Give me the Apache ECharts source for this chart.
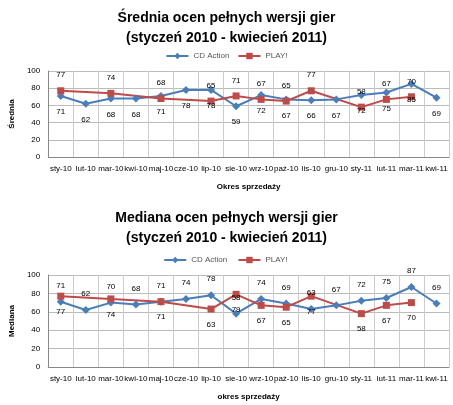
<!DOCTYPE html>
<html>
<head>
<meta charset="UTF-8">
<script src="https://cdn.jsdelivr.net/npm/echarts@6/dist/echarts.min.js"></script>
</head>
<body style="margin:0">
<div id="charts" style="width:453px;height:405px;"></div>
<script>
var months = ['sty-10','lut-10','mar-10','kwi-10','maj-10','cze-10','lip-10','sie-10','wrz-10','paź-10','lis-10','gru-10','sty-11','lut-11','mar-11','kwi-11'];
var sredniaCD = [71,62,68,68,71,78,78,59,72,67,66,67,72,75,85,69];
var sredniaPlay = [77,null,74,null,68,null,65,71,67,65,77,null,58,67,70,null];
var medianaCD = [71,62,70,68,71,74,78,58,74,69,63,67,72,75,87,69];
var medianaPlay = [77,null,74,null,71,null,63,79,67,65,77,null,58,67,70,null];

var blue = '#4a7ebb', red = '#be4b48';
var chart = echarts.init(document.getElementById('charts'));
function xAx(idx, name) {
    return {type:'category', gridIndex:idx, data:months, name:name, nameLocation:'middle', nameGap:26,
        nameTextStyle:{fontSize:8, fontWeight:'bold', color:'#000'},
        axisLabel:{fontSize:8, color:'#000', interval:0}, axisTick:{show:false},
        axisLine:{lineStyle:{color:'#888'}}, splitLine:{show:true, lineStyle:{color:'#ccc'}}};
}
function yAx(idx, name) {
    return {type:'value', gridIndex:idx, min:0, max:100, interval:20, name:name, nameLocation:'middle', nameGap:24,
        nameTextStyle:{fontSize:8, fontWeight:'bold', color:'#000'},
        axisLabel:{fontSize:8, color:'#000'}, axisLine:{show:true, lineStyle:{color:'#888'}},
        splitLine:{lineStyle:{color:'#bbb'}}};
}
function ser(name, data, idx, color, sym, pos) {
    return {name:name, type:'line', xAxisIndex:idx, yAxisIndex:idx, data:data, connectNulls:true,
        symbol:sym, symbolSize: sym === 'rect' ? 7 : 8, color:color, lineStyle:{width:2, color:color},
        itemStyle:{color:color}, label:{show:true, position:pos, fontSize:8, color:'#000', distance:8}};
}
chart.setOption({
    animation:false,
    title:[
        {text:'Średnia ocen pełnych wersji gier\n(styczeń 2010 - kwiecień 2011)', left:'center', top:3,
         textStyle:{fontSize:14, fontWeight:'bold', lineHeight:20, color:'#000'}},
        {text:'Mediana ocen pełnych wersji gier\n(styczeń 2010 - kwiecień 2011)', left:'center', top:203,
         textStyle:{fontSize:14, fontWeight:'bold', lineHeight:20, color:'#000'}}
    ],
    legend:[
        {data:['CD Action','PLAY!'], top:47, left:'center', itemWidth:22, itemHeight:8, textStyle:{fontSize:8}},
        {data:['CD Action ','PLAY! '], top:251, left:'center', itemWidth:22, itemHeight:8, textStyle:{fontSize:8}}
    ],
    grid:[
        {left:40, right:4, top:71, height:86},
        {left:40, right:4, top:275, height:92}
    ],
    xAxis:[xAx(0,'Okres sprzedaży'), xAx(1,'okres sprzedaży')],
    yAxis:[yAx(0,'Średnia'), yAx(1,'Mediana')],
    series:[
        ser('CD Action', sredniaCD, 0, blue, 'diamond', 'bottom'),
        ser('PLAY!', sredniaPlay, 0, red, 'rect', 'top'),
        ser('CD Action ', medianaCD, 1, blue, 'diamond', 'top'),
        ser('PLAY! ', medianaPlay, 1, red, 'rect', 'bottom')
    ]
});
</script>
</body>
</html>
